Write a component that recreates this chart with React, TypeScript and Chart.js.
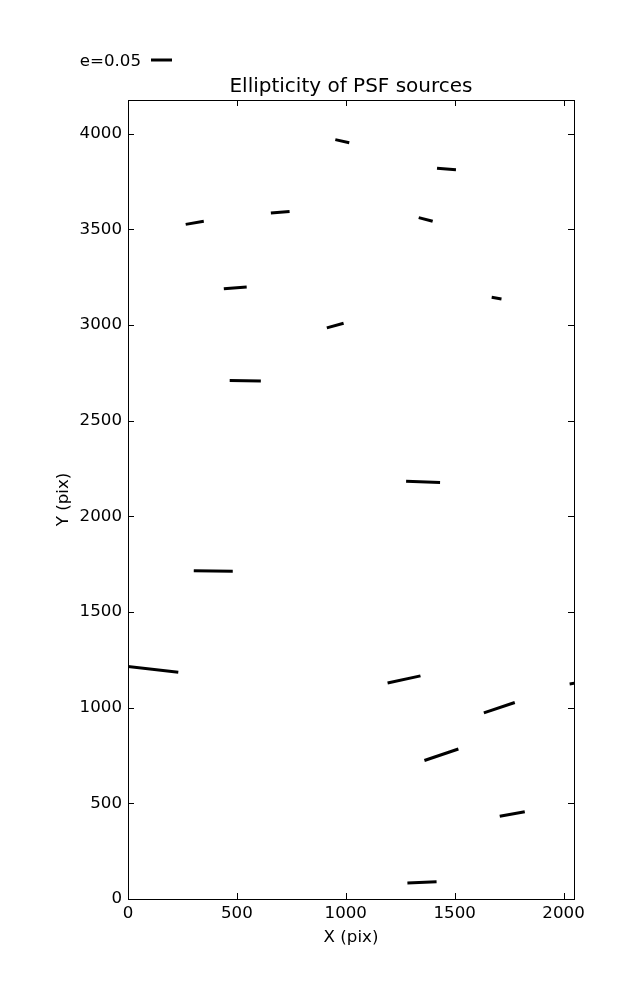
import { useEffect, useRef } from "react";
import { Chart, registerables } from "chart.js";

Chart.register(...registerables);

// Whisker endpoints (data units, pixels on the detector)
const xStart = [952, 1419, 265, 656, 1335, 440, 1670, 913, 467, 1277, 302, -10, 1192, 1634, 2028, 1361, 1707, 1283];
const yStart = [3969, 3819, 3526, 3585, 3561, 3189, 3145, 2985, 2710, 2184, 1716, 1217, 1129, 973, 1124, 724, 433, 84];
const xEnd = [1016, 1506, 348, 742, 1399, 545, 1715, 990, 610, 1433, 481, 231, 1343, 1776, 2070, 1517, 1822, 1417];
const yEnd = [3953, 3811, 3542, 3593, 3542, 3199, 3136, 3009, 2707, 2177, 1713, 1185, 1166, 1027, 1131, 784, 456, 90];

const xRange = [0, 2048];
const yRange = [0, 4176];
const xTicks = [0, 500, 1000, 1500, 2000];
const yTicks = [0, 500, 1000, 1500, 2000, 2500, 3000, 3500, 4000];

const titleText = "Ellipticity of PSF sources";
const xLabel = "X (pix)";
const yLabel = "Y (pix)";
const keyLabel = "e=0.05";

const FONT = "'DejaVu Sans', sans-serif";
const FS = 16.67;

const framePlugin = {
  id: "frameAndKey",
  afterDraw(chart: any) {
    const { ctx, chartArea, scales } = chart;
    const { left, right, top, bottom } = chartArea;
    const xs = scales.x;
    const ys = scales.y;
    ctx.save();
    ctx.strokeStyle = "#000";
    ctx.lineWidth = 1;
    ctx.beginPath();
    const tl = 6;
    xs.ticks.forEach((t: any) => {
      const px = Math.round(xs.getPixelForValue(t.value)) + 0.5;
      ctx.moveTo(px, bottom);
      ctx.lineTo(px, bottom - tl);
      ctx.moveTo(px, top);
      ctx.lineTo(px, top + tl);
    });
    ys.ticks.forEach((t: any) => {
      const py = Math.round(ys.getPixelForValue(t.value)) + 0.5;
      ctx.moveTo(left, py);
      ctx.lineTo(left + tl, py);
      ctx.moveTo(right, py);
      ctx.lineTo(right - tl, py);
    });
    ctx.stroke();
    ctx.strokeRect(Math.round(left) + 0.5, Math.round(top) + 0.5, Math.round(right - left), Math.round(bottom - top));

    // title
    ctx.fillStyle = "#000";
    ctx.font = `20px ${FONT}`;
    ctx.textAlign = "center";
    ctx.textBaseline = "alphabetic";
    ctx.fillText(titleText, (left + right) / 2, top - 8);

    // key
    ctx.font = `${FS}px ${FONT}`;
    ctx.textAlign = "right";
    ctx.fillText(keyLabel, 141, 66);
    ctx.lineWidth = 3;
    ctx.lineCap = "butt";
    ctx.beginPath();
    ctx.moveTo(151, 60);
    ctx.lineTo(172, 60);
    ctx.stroke();
    ctx.restore();
  },
};

export default function App() {
  const ref = useRef<HTMLCanvasElement | null>(null);
  useEffect(() => {
    document.body.style.margin = "0";
    const datasets = xStart.map((x0, i) => ({
      data: [
        { x: x0, y: yStart[i] },
        { x: xEnd[i], y: yEnd[i] },
      ],
      borderColor: "#000",
      borderWidth: 3,
      borderCapStyle: "butt" as const,
      pointRadius: 0,
      showLine: true,
      fill: false,
    }));
    const chart = new Chart(ref.current!, {
      type: "scatter",
      data: { datasets },
      options: {
        responsive: false,
        animation: false,
        devicePixelRatio: 1,
        layout: { padding: { top: 100, right: 63, left: 53.4, bottom: 52.4 } },
        plugins: { legend: { display: false }, tooltip: { enabled: false } },
        font: { family: FONT },
        scales: {
          x: {
            type: "linear",
            min: xRange[0],
            max: xRange[1],
            grid: { display: false, drawTicks: false },
            border: { display: false },
            afterBuildTicks: (s: any) => {
              s.ticks = xTicks.map((v) => ({ value: v }));
            },
            ticks: {
              color: "#000",
              font: { family: FONT, size: FS },
              padding: 5,
              maxRotation: 0,
              autoSkip: false,
              callback: (v: any) => String(v),
            },
            title: { display: true, text: xLabel, color: "#000", font: { family: FONT, size: FS }, padding: 0 },
            afterFit: (s: any) => {
              s.height = 48.6;
            },
          },
          y: {
            type: "linear",
            min: yRange[0],
            max: yRange[1],
            grid: { display: false, drawTicks: false },
            border: { display: false },
            afterBuildTicks: (s: any) => {
              s.ticks = yTicks.map((v) => ({ value: v }));
            },
            ticks: {
              color: "#000",
              font: { family: FONT, size: FS },
              padding: 6,
              autoSkip: false,
              callback: (v: any) => String(v),
            },
            title: { display: true, text: yLabel, color: "#000", font: { family: FONT, size: FS }, padding: 0 },
            afterFit: (s: any) => {
              s.width = 74.6;
            },
          },
        },
      } as any,
      plugins: [framePlugin],
    });
    return () => chart.destroy();
  }, []);
  return <canvas ref={ref} width={637} height={1000} style={{ display: "block" }} />;
}
